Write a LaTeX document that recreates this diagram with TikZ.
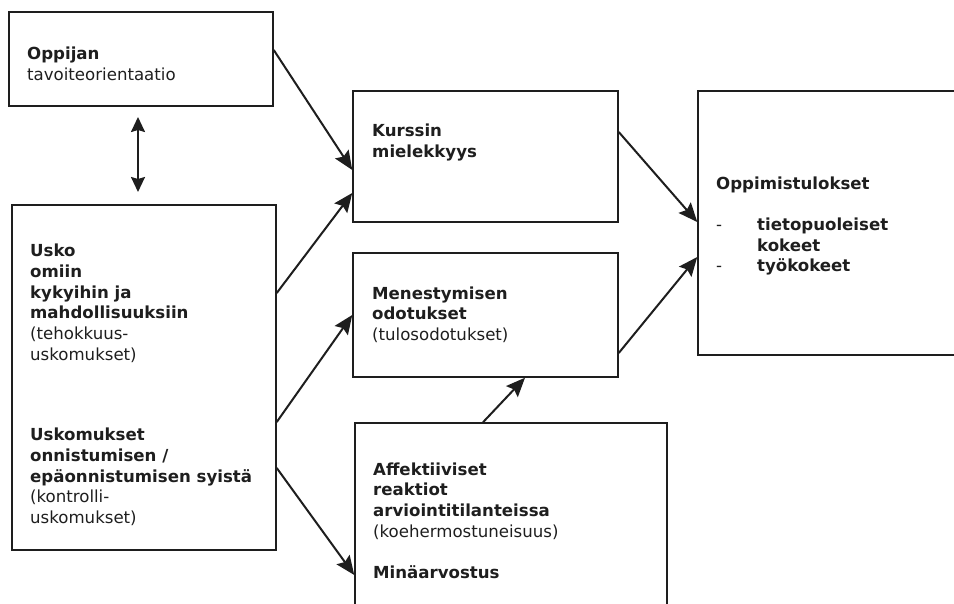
\documentclass[tikz,border=0pt]{standalone}
\usepackage{fontspec}
\setmainfont{DejaVu Sans}
\usetikzlibrary{arrows.meta}
\definecolor{ink}{HTML}{1E1E1E}
\begin{document}
\begin{tikzpicture}[x=1pt,y=-1pt,
  box/.style={draw=ink,line width=1.5pt,rectangle,inner sep=0pt},
  txt/.style={inner sep=0pt,anchor=base west,text=ink,
    font=\fontsize{16.6}{20.7}\selectfont},
  arr/.style={draw=ink,line width=2pt,
    -{Stealth[length=19pt,width=16pt,inset=3pt]}},
  dbl/.style={draw=ink,line width=2pt,
    {Stealth[length=15pt,width=14pt,inset=2pt]}-{Stealth[length=15pt,width=14pt,inset=2pt]}}]
\useasboundingbox (0,0) rectangle (954,603);
\clip (0,0) rectangle (954,603);

% boxes
\node[box,minimum width=264pt,minimum height=94pt]  (A) at (141,59) {};
\node[box,minimum width=264pt,minimum height=345pt] (B) at (144,377.5) {};
\node[box,minimum width=265pt,minimum height=131pt] (C) at (485.5,156.5) {};
\node[box,minimum width=265pt,minimum height=124pt] (D) at (485.5,315) {};
\node[box,minimum width=312pt,minimum height=197pt] (E) at (511,521.5) {};
\node[box,minimum width=262pt,minimum height=264pt] (F) at (829,223) {};

% texts
\node[txt] (tA) at (27,59.5) {\begin{tabular}[t]{@{}l@{}}\textbf{Oppijan}\\tavoiteorientaatio\end{tabular}};
\node[txt] (tB1) at (30,256.7) {\begin{tabular}[t]{@{}l@{}}\textbf{Usko}\\\textbf{omiin}\\\textbf{kykyihin ja}\\\textbf{mahdollisuuksiin}\\(tehokkuus-\\uskomukset)\end{tabular}};
\node[txt] (tB2) at (30,440.7) {\begin{tabular}[t]{@{}l@{}}\textbf{Uskomukset}\\\textbf{onnistumisen /}\\\textbf{epäonnistumisen syistä}\\(kontrolli-\\uskomukset)\end{tabular}};
\node[txt] (tC) at (372,136.7) {\begin{tabular}[t]{@{}l@{}}\textbf{Kurssin}\\\textbf{mielekkyys}\end{tabular}};
\node[txt] (tD) at (372,299) {\begin{tabular}[t]{@{}l@{}}\textbf{Menestymisen}\\\textbf{odotukset}\\(tulosodotukset)\end{tabular}};
\node[txt] (tE) at (373,475) {\begin{tabular}[t]{@{}l@{}}\textbf{Affektiiviset}\\\textbf{reaktiot}\\\textbf{arviointitilanteissa}\\(koehermostuneisuus)\\ \\\textbf{Minäarvostus}\end{tabular}};
\node[txt] (tF) at (716,189) {\begin{tabular}[t]{@{}p{41pt}@{}l@{}}\multicolumn{2}{@{}l@{}}{\textbf{Oppimistulokset}}\\ & \\-&\textbf{tietopuoleiset}\\&\textbf{kokeet}\\-&\textbf{työkokeet}\end{tabular}};

% connectors
\coordinate (up) at (138,117);
\coordinate (dn) at (138,192);
\draw[dbl] (up) -- (dn);
\draw[arr] (A.east |- 0,50)  -- (C.west |- 0,170);
\draw[arr] (B.east |- 0,293) -- (C.west |- 0,193);
\draw[arr] (B.east |- 0,422) -- (D.west |- 0,315);
\draw[arr] (B.east |- 0,468) -- (E.west |- 0,575);
\draw[arr] (E.north -| 483,0) -- (D.south -| 525,0);
\draw[arr] (C.east |- 0,132) -- (F.west |- 0,222);
\draw[arr] (D.east |- 0,353) -- (F.west |- 0,257);
\end{tikzpicture}
\end{document}
